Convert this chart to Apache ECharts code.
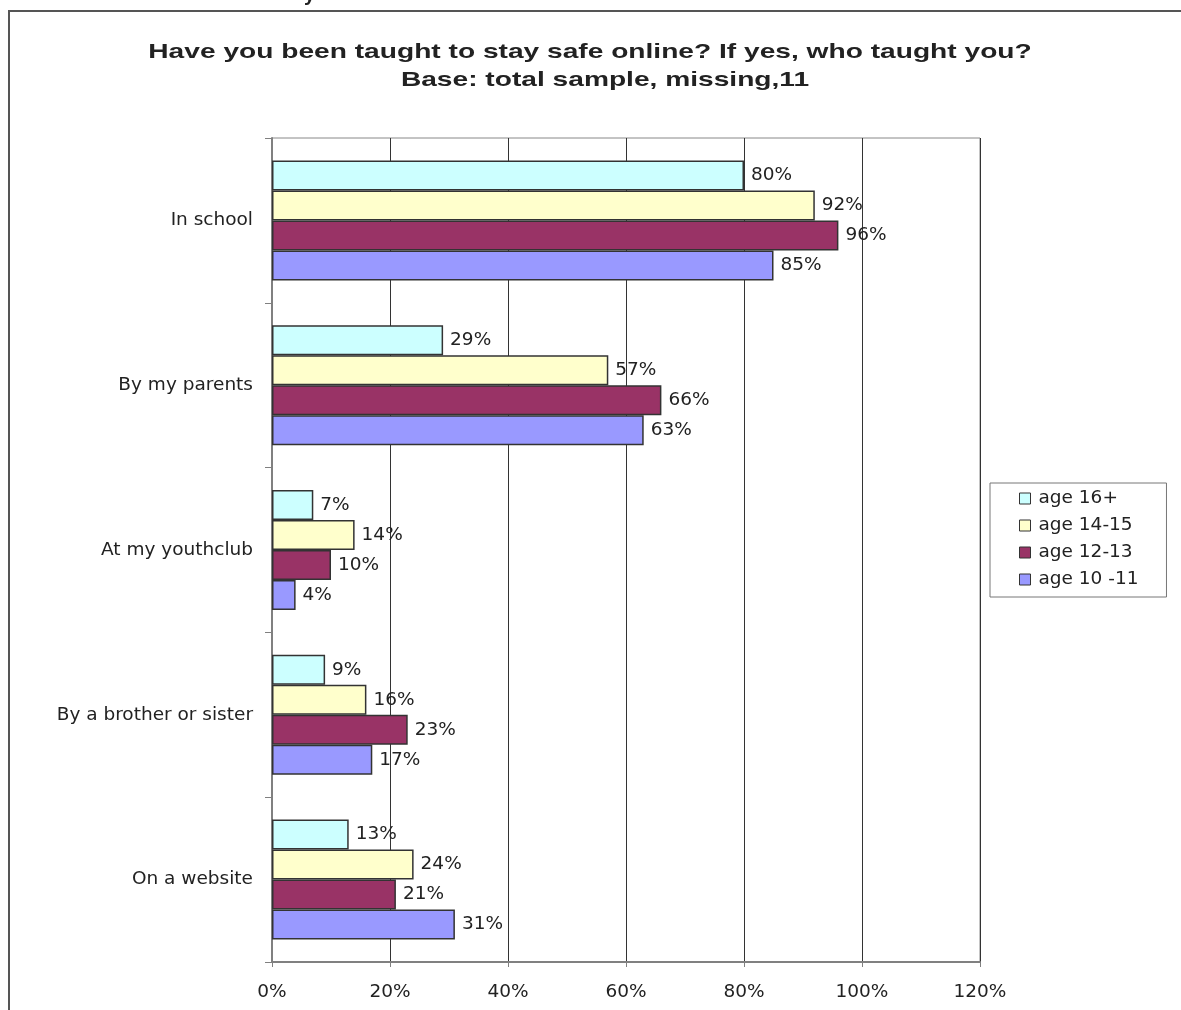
<!DOCTYPE html>
<html>
<head>
<meta charset="utf-8">
<script src="https://cdn.jsdelivr.net/npm/echarts@6/dist/echarts.min.js"></script>
<style>
  html, body { margin: 0; padding: 0; background: #ffffff; }
  #chart { width: 1181px; height: 1010px; }
</style>
</head>
<body>
<div id="chart"></div>
<script>
// Who taught pupils to stay safe online, by age group (percent of respondents)
const categories = ['In school', 'By my parents', 'At my youthclub', 'By a brother or sister', 'On a website'];
const seriesNames = ['age 16+', 'age 14-15', 'age 12-13', 'age 10 -11'];
const age16plus = [80, 29, 7, 9, 13];
const age14to15 = [92, 57, 14, 16, 24];
const age12to13 = [96, 66, 10, 23, 21];
const age10to11 = [85, 63, 4, 17, 31];
const xTicks = { min: 0, max: 120, interval: 20 };
const titleLines = [
  'Have you been taught to stay safe online? If yes, who taught you?',
  'Base: total sample, missing,11'
];

const seriesValues = [age16plus, age14to15, age12to13, age10to11];
const seriesColors = ['#CCFFFF', '#FFFFCC', '#993366', '#9999FF'];
const FONT = '"DejaVu Sans", "Liberation Sans", Arial, sans-serif';
const FONT_SIZE = 18.5;
const TITLE_FONT = 'bold 21px "Liberation Sans", Arial, sans-serif';

const chart = echarts.init(document.getElementById('chart'), null, { renderer: 'canvas' });

chart.setOption({
  backgroundColor: '#ffffff',
  animation: false,
  legend: {
    orient: 'vertical',
    left: 990, top: 483,
    data: seriesNames,
    itemWidth: 11, itemHeight: 11, itemGap: 8,
    padding: [6, 28, 8, 29],
    borderColor: '#777', borderWidth: 1,
    icon: 'rect',
    itemStyle: { borderColor: '#333', borderWidth: 1 },
    textStyle: { fontFamily: FONT, fontSize: FONT_SIZE, color: '#222', padding: [0, 0, 0, 3] }
  },
  grid: {
    left: 272, top: 138, right: 201, bottom: 48,
    show: true, borderColor: '#888', borderWidth: 1, backgroundColor: 'transparent'
  },
  xAxis: {
    type: 'value',
    min: xTicks.min, max: xTicks.max, interval: xTicks.interval,
    axisLine: { show: true, lineStyle: { color: '#808080', width: 2 } },
    axisTick: { show: true, length: 5, lineStyle: { color: '#808080' } },
    axisLabel: { formatter: '{value}%', margin: 21, fontFamily: FONT, fontSize: FONT_SIZE, color: '#222' },
    splitLine: { show: true, lineStyle: { color: '#333', width: 1 } }
  },
  yAxis: {
    type: 'category',
    inverse: true,
    data: categories,
    axisLine: { show: true, lineStyle: { color: '#808080', width: 2 } },
    axisTick: { show: true, length: 7, alignWithLabel: false, lineStyle: { color: '#808080' } },
    axisLabel: { margin: 19, fontFamily: FONT, fontSize: FONT_SIZE, color: '#222' },
    splitLine: { show: false }
  },
  series: seriesNames.map((name, i) => ({
    name: name,
    type: 'bar',
    data: seriesValues[i],
    barWidth: 30,
    barGap: '0%',
    itemStyle: { color: seriesColors[i], borderColor: '#333', borderWidth: 1.5 },
    label: {
      show: true, position: 'right', distance: 7,
      formatter: '{c}%',
      fontFamily: FONT, fontSize: FONT_SIZE, color: '#222'
    }
  })),
  graphic: [
    {
      type: 'rect', silent: true, z: 100,
      shape: { x: 9, y: 11, width: 1200, height: 1020 },
      style: { fill: 'none', stroke: '#555', lineWidth: 2 }
    },
    {
      type: 'text', silent: true,
      style: { x: 304, y: 5, text: 'y', verticalAlign: 'bottom', fill: '#222', font: 'bold 20px "Liberation Sans", Arial' }
    },
    {
      type: 'text', silent: true, x: 590, y: 52, scaleX: 1.34,
      style: { x: 0, y: 0, text: titleLines[0], align: 'center', verticalAlign: 'middle', fill: '#222', font: TITLE_FONT }
    },
    {
      type: 'text', silent: true, x: 605, y: 80, scaleX: 1.34,
      style: { x: 0, y: 0, text: titleLines[1], align: 'center', verticalAlign: 'middle', fill: '#222', font: TITLE_FONT }
    }
  ]
});
</script>
</body>
</html>
